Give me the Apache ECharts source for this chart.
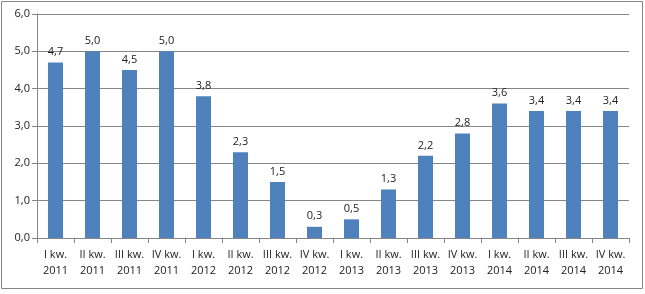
<!DOCTYPE html>
<html><head><meta charset="utf-8">
<script src="https://cdn.jsdelivr.net/npm/echarts@6/dist/echarts.min.js"></script>
<style>html,body{margin:0;padding:0;background:#fff}#c{width:645px;height:294px}</style>
</head><body><div id="c"></div>
<script>
const categories = ["I kw.\n2011","II kw.\n2011","III kw.\n2011","IV kw.\n2011","I kw.\n2012","II kw.\n2012","III kw.\n2012","IV kw.\n2012","I kw.\n2013","II kw.\n2013","III kw.\n2013","IV kw.\n2013","I kw.\n2014","II kw.\n2014","III kw.\n2014","IV kw.\n2014"];
const values = [4.7,5.0,4.5,5.0,3.8,2.3,1.5,0.3,0.5,1.3,2.2,2.8,3.6,3.4,3.4,3.4];
const yTicks = [0,1,2,3,4,5,6];
const fmt = v => v.toFixed(1).replace('.', ',');
const chart = echarts.init(document.getElementById('c'));
chart.setOption({
  animation:false,
  textStyle:{fontFamily:'Open Sans, Liberation Sans, sans-serif'},
  graphic:[{type:'rect',shape:{x:1.5,y:1.5,width:641,height:287},style:{fill:null,stroke:'#868686',lineWidth:1},silent:true}],
  grid:{left:37,right:16,top:14,bottom:56,containLabel:false},
  xAxis:{type:'category',data:categories,
    axisLine:{lineStyle:{color:'#868686'}},
    axisTick:{show:true,length:5,alignWithLabel:false,lineStyle:{color:'#868686'}},
    axisLabel:{interval:0,color:'#222',fontSize:11,lineHeight:16,margin:9}},
  yAxis:{type:'value',min:yTicks[0],max:yTicks[yTicks.length-1],interval:1,
    axisLine:{show:true,lineStyle:{color:'#868686'}},
    axisTick:{show:true,length:5,lineStyle:{color:'#868686'}},
    splitLine:{lineStyle:{color:'#868686'}},
    axisLabel:{formatter:v=>fmt(v),color:'#222',fontSize:11,margin:7}},
  series:[{type:'bar',data:values,barWidth:15,itemStyle:{color:'#4F81BD'},
    label:{show:true,position:'top',distance:5,formatter:p=>fmt(p.value),color:'#222',fontSize:11}}]
});
</script></body></html>
